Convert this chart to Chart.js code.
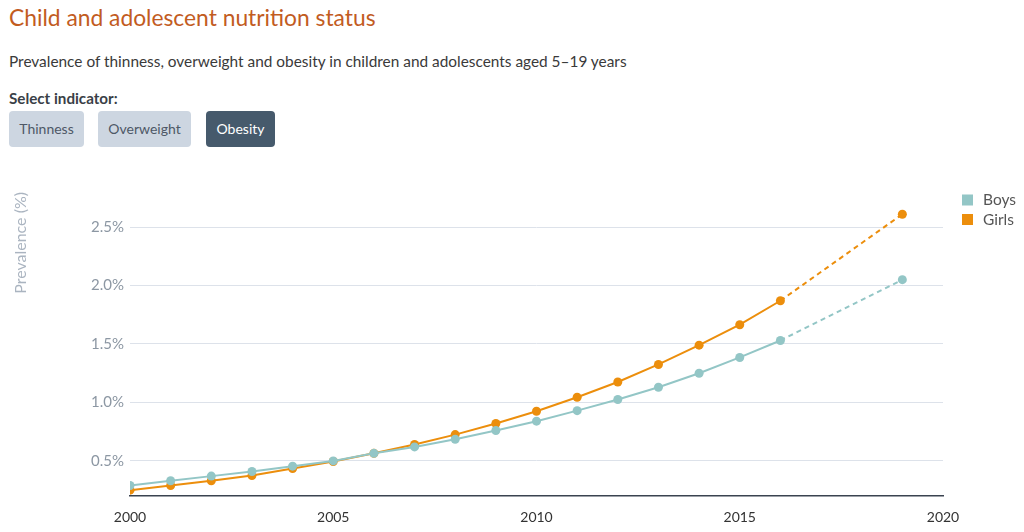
<!DOCTYPE html>
<html>
<head>
<meta charset="utf-8">
<script src="https://cdn.jsdelivr.net/npm/chart.js@4"></script>
<style>
  html, body { margin: 0; padding: 0; background: #fff; width: 1024px; height: 532px; overflow: hidden; font-family: Lato, "Open Sans", sans-serif; }
  .abs { position: absolute; white-space: nowrap; }
  #title { left: 9px; top: 3px; font-size: 22.8px; color: #c25c1f; }
  #sub { left: 9px; top: 52px; font-size: 15.4px; color: #3a3a3a; }
  #sel { left: 9px; top: 89px; font-size: 15.2px; font-weight: bold; color: #3a3f47; }
  .btn { position: absolute; top: 111px; height: 36px; line-height: 36px; text-align: center; font-size: 14px; border-radius: 4px; background: #cdd6e1; color: #4e5866; }
  .btn.on { background: #465a6c; color: #fff; }
  #wrap { position: absolute; left: 0; top: 160px; width: 1024px; height: 372px; }
</style>
</head>
<body>
<div id="title" class="abs">Child and adolescent nutrition status</div>
<div id="sub" class="abs">Prevalence of thinness, overweight and obesity in children and adolescents aged 5–19 years</div>
<div id="sel" class="abs">Select indicator:</div>
<div class="btn" style="left:9px;width:75px;">Thinness</div>
<div class="btn" style="left:98px;width:93px;">Overweight</div>
<div class="btn on" style="left:206px;width:69px;">Obesity</div>
<div id="wrap"><canvas id="c" width="1024" height="372"></canvas></div>
<script>
const years = [2000, 2001, 2002, 2003, 2004, 2005, 2006, 2007, 2008, 2009, 2010, 2011, 2012, 2013, 2014, 2015, 2016, 2019];
const boys  = [0.29, 0.33, 0.37, 0.41, 0.455, 0.50, 0.565, 0.62, 0.685, 0.76, 0.84, 0.93, 1.025, 1.13, 1.25, 1.385, 1.53, 2.05];
const girls = [0.25, 0.29, 0.33, 0.375, 0.435, 0.495, 0.565, 0.64, 0.725, 0.82, 0.925, 1.045, 1.175, 1.325, 1.49, 1.665, 1.87, 2.61];
const seriesNames = ['Boys', 'Girls'];
const xTicks = [2000, 2005, 2010, 2015, 2020];
const yTicks = [0.5, 1.0, 1.5, 2.0, 2.5];

const colors = ['#93c6c6', '#ec8e0c'];
const lastIdx = years.length - 1;

function mk(vals, i) {
  return {
    label: seriesNames[i],
    data: years.map((y, k) => ({ x: y, y: vals[k] })),
    borderColor: colors[i],
    backgroundColor: colors[i],
    borderWidth: 2,
    pointRadius: 4.5,
    pointBorderWidth: 0,
    pointBackgroundColor: colors[i],
    tension: 0,
    segment: { borderDash: ctx => ctx.p1DataIndex === lastIdx ? [5, 4] : undefined }
  };
}

const legendPlugin = {
  id: 'sideLegend',
  afterDraw(chart) {
    const ctx = chart.ctx;
    ctx.save();
    ctx.font = '15.5px Lato, sans-serif';
    ctx.textBaseline = 'middle';
    chart.data.datasets.forEach((ds, i) => {
      const cy = 40 + i * 19.5;
      ctx.fillStyle = ds.borderColor;
      ctx.fillRect(962, cy - 5.5, 11, 11);
      ctx.fillStyle = '#555';
      ctx.fillText(ds.label, 983, cy);
    });
    ctx.restore();
  }
};

new Chart(document.getElementById('c'), {
  type: 'line',
  data: { datasets: [mk(boys, 0), mk(girls, 1)] },
  plugins: [legendPlugin],
  options: {
    responsive: false,
    animation: false,
    layout: { padding: { left: 8, right: 81, top: 32, bottom: 0 } },
    plugins: { legend: { display: false }, tooltip: { enabled: false } },
    scales: {
      x: {
        type: 'linear',
        min: 2000, max: 2020,
        afterBuildTicks: s => { s.ticks = xTicks.map(v => ({ value: v })); },
        afterFit: s => { s.height = 36; },
        grid: { display: false },
        border: { display: true, color: '#3a4350', width: 1.5 },
        ticks: { color: '#333', font: { family: 'Lato', size: 14 }, padding: 5, maxRotation: 0,
                 callback: v => String(v) }
      },
      y: {
        min: 0.2, max: 2.8,
        afterBuildTicks: s => { s.ticks = yTicks.map(v => ({ value: v })); },
        afterFit: s => { s.width = 122; },
        grid: { color: '#dde2ea', lineWidth: 1, drawTicks: false },
        border: { display: false },
        ticks: { color: '#8c97a3', font: { family: 'Lato', size: 15 }, padding: 6,
                 callback: v => v.toFixed(1) + '%' },
        title: { display: true, text: 'Prevalence (%)', align: 'end', color: '#aab4c0',
                 font: { family: 'Lato', size: 16 }, padding: { top: 3, bottom: 0 } }
      }
    }
  }
});
</script>
</body>
</html>
